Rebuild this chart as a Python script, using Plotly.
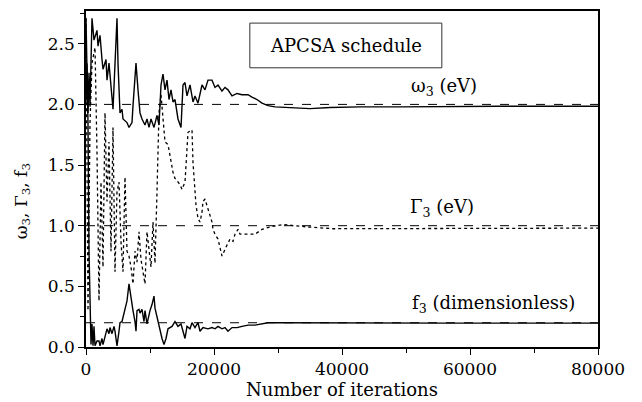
import plotly.graph_objects as go

# ---- data ----
omega_iter = [0, 156, 312, 469, 625, 938, 1250, 1719, 1875, 2188, 2500, 2656, 3125, 3281, 3594,
              3906, 4219, 4844, 5000, 5313, 5625, 5781, 6406, 6719, 7188, 7344, 7813, 8125, 8438,
              8750, 9219, 9531, 9844, 10156, 10625, 11094, 11406, 11719, 12031, 12344, 12656,
              12969, 13281, 13594, 13906, 14375, 14844, 15156, 15469, 15781, 16250, 16719, 17031,
              17500, 18125, 18594, 19063, 19688, 20156, 20625, 21250, 21719, 22188, 22813, 23594,
              24375, 25313, 25938, 26719, 27500, 28438, 29531, 31875, 35000, 38125, 42813, 49063,
              56875, 64688, 72500, 80000]
omega_val = [2.02, 2.34, 1.93, 2.26, 1.98, 2.71, 2.53, 2.61, 2.48, 2.57, 2.37, 2.29, 2.37, 2.20, 2.34,
             2.12, 1.96, 2.71, 2.34, 1.93, 1.96, 1.88, 1.85, 1.81, 1.85, 1.99, 2.34, 2.12, 1.93,
             1.88, 1.83, 1.88, 1.81, 1.88, 1.81, 1.91, 1.83, 2.16, 2.25, 2.12, 2.20,
             2.04, 2.12, 2.02, 2.04, 1.88, 1.81, 2.16, 2.18, 2.07, 2.16, 2.02, 2.07,
             2.01, 2.16, 2.12, 2.20, 2.20, 2.14, 2.16, 2.11, 2.14, 2.12, 2.07, 2.09,
             2.08, 2.08, 2.06, 2.04, 2.01, 1.99, 1.98, 1.975, 1.965, 1.975, 1.98, 1.98,
             1.985, 1.985, 1.985, 1.985]

gamma_iter = [0, 156, 312, 625, 938, 1406, 1719, 2031, 2344, 2656, 2969, 3281, 3594, 3906, 4219,
              4531, 4844, 5156, 5469, 5781, 6094, 6406, 6719, 7031, 7344, 7656, 7969, 8281, 8594,
              8906, 9219, 9531, 9844, 10156, 10469, 10781, 11094, 11406, 11719, 12031, 12344,
              12813, 13594, 13906, 14688, 15000, 15469, 15938, 16563, 16719, 17188, 17500, 17813,
              18125, 18281, 18594, 19063, 19688, 19844, 20156, 20625, 21250, 22031, 22500, 22969,
              23281, 23750, 24063, 24844, 25625, 26406, 27500, 28750, 30781, 32344, 34531, 38594,
              43906, 49063, 54219, 64688, 80000]
gamma_val = [2.71, 1.20, 0.30, 1.85, 2.34, 2.47, 1.61, 0.38, 1.36, 0.66, 1.93, 1.20, 1.69, 0.79, 1.81,
             0.62, 1.28, 1.36, 0.87, 0.62, 1.40, 0.79, 0.75, 0.66, 0.52, 0.79, 0.70, 0.95, 0.72,
             0.62, 0.52, 0.95, 0.79, 0.66, 1.03, 0.69, 1.28, 1.93, 2.08, 1.91, 1.69,
             1.67, 1.44, 1.39, 1.34, 1.30, 1.36, 1.77, 1.79, 1.52, 1.17, 1.06, 1.03,
             1.11, 1.20, 1.22, 1.14, 1.03, 0.97, 0.93, 0.89, 0.75, 0.84, 0.89, 0.87,
             0.93, 0.97, 0.93, 0.93, 0.93, 0.93, 0.97, 0.99, 1.01, 1.00, 0.99, 0.975,
             0.975, 0.975, 0.98, 0.98, 0.98]

f_iter = [0, 312, 469, 625, 781, 938, 1094, 1250, 1406, 1719, 2031, 2188, 2500, 2656, 2969, 3281,
          3594, 3750, 4063, 4375, 4531, 4844, 5156, 5313, 5625, 5938, 6094, 6406, 6719, 7031,
          7344, 7656, 7813, 7969, 8281, 8438, 8750, 9063, 9219, 9531, 9844, 10000, 10313, 10625,
          10781, 11094, 11406, 11875, 12188, 12500, 12813, 13438, 13906, 14375, 14844, 15469,
          15781, 16250, 16563, 17031, 17500, 17813, 18281, 19063, 19688, 20156, 20625, 21250,
          21719, 22188, 22813, 23594, 24375, 25313, 26406, 27500, 28438, 29531, 41250, 56875, 80000]
f_val = [2.71, 1.85, 0.79, 0.38, 0.02, 0.19, 0.01, 0.17, 0.01, 0.05, 0.05, 0.01, 0.07, 0.02, 0.09, 0.15,
         0.11, 0.16, 0.11, 0.17, 0.13, 0.01, 0.13, 0.20, 0.21, 0.27, 0.30, 0.38, 0.52, 0.40,
         0.30, 0.21, 0.13, 0.30, 0.31, 0.28, 0.31, 0.21, 0.30, 0.19, 0.27, 0.30, 0.35, 0.42,
         0.32, 0.24, 0.16, 0.07, 0.02, 0.07, 0.15, 0.17, 0.21, 0.17, 0.19, 0.07,
         0.17, 0.15, 0.20, 0.16, 0.20, 0.13, 0.16, 0.15, 0.16, 0.15, 0.17, 0.15,
         0.16, 0.13, 0.16, 0.16, 0.17, 0.18, 0.18, 0.19, 0.20, 0.20, 0.197, 0.197, 0.197]

true_values = [2.0, 1.0, 0.2]
x_range = [0, 80000]
y_range = [0, 2.77]
x_ticks = [0, 20000, 40000, 60000, 80000]
y_ticks = [0.0, 0.5, 1.0, 1.5, 2.0, 2.5]

FONT = "DejaVu Serif"

fig = go.Figure()
for tv in true_values:
    fig.add_trace(go.Scatter(x=x_range, y=[tv, tv], mode="lines",
                             line=dict(color="black", width=1, dash="dash"),
                             showlegend=False, hoverinfo="skip"))
fig.add_trace(go.Scatter(x=gamma_iter, y=gamma_val, mode="lines",
                         line=dict(color="black", width=1.3, dash="dot"), showlegend=False))
fig.add_trace(go.Scatter(x=omega_iter, y=omega_val, mode="lines",
                         line=dict(color="black", width=1.4), showlegend=False))
fig.add_trace(go.Scatter(x=f_iter, y=f_val, mode="lines",
                         line=dict(color="black", width=1.4), showlegend=False))

fig.update_layout(
    width=634, height=394,
    margin=dict(l=78, r=44, t=1, b=55),
    paper_bgcolor="white", plot_bgcolor="white",
    font=dict(family=FONT, size=17, color="black"),
    xaxis=dict(range=x_range, tickvals=x_ticks, ticktext=[str(v) for v in x_ticks],
               showgrid=False, zeroline=False, showline=True, linecolor="black", linewidth=1.5,
               mirror=True, ticks="outside", ticklen=6, tickwidth=1.3, tickcolor="black",
               minor=dict(dtick=10000, tick0=0, ticks="outside", ticklen=4, tickcolor="black"),
               tickfont=dict(family=FONT, size=17),
               title=dict(text="Number of iterations", font=dict(family=FONT, size=18), standoff=4)),
    yaxis=dict(range=y_range, tickvals=y_ticks, ticktext=["%.1f" % v for v in y_ticks],
               showgrid=False, zeroline=False, showline=True, linecolor="black", linewidth=1.5,
               mirror=True, ticks="outside", ticklen=6, tickwidth=1.3, tickcolor="black",
               minor=dict(dtick=0.25, tick0=0, ticks="outside", ticklen=4, tickcolor="black"),
               tickfont=dict(family=FONT, size=17)),
)

fig.add_shape(type="rect", xref="paper", yref="paper", x0=0.320, x1=0.695, y0=0.831, y1=0.964,
              line=dict(color="#333", width=1))
anns = [
    ("APCSA schedule", 0.508, 0.898, 18, 0),
    ("ω<sub>3</sub> (eV)", 0.699, 0.775, 18, 0),
    ("Γ<sub>3</sub> (eV)", 0.695, 0.415, 18, 0),
    ("f<sub>3</sub> (dimensionless)", 0.795, 0.127, 18, 0),
    ("ω<sub>3</sub>, Γ<sub>3</sub>, f<sub>3</sub>", -0.124, 0.432, 17, -90),
]
for text, x, y, size, ang in anns:
    fig.add_annotation(text=text, xref="paper", yref="paper", x=x, y=y, showarrow=False,
                       xanchor="center", yanchor="middle", textangle=ang,
                       font=dict(family=FONT, size=size, color="black"))

fig.write_html("out.html")
